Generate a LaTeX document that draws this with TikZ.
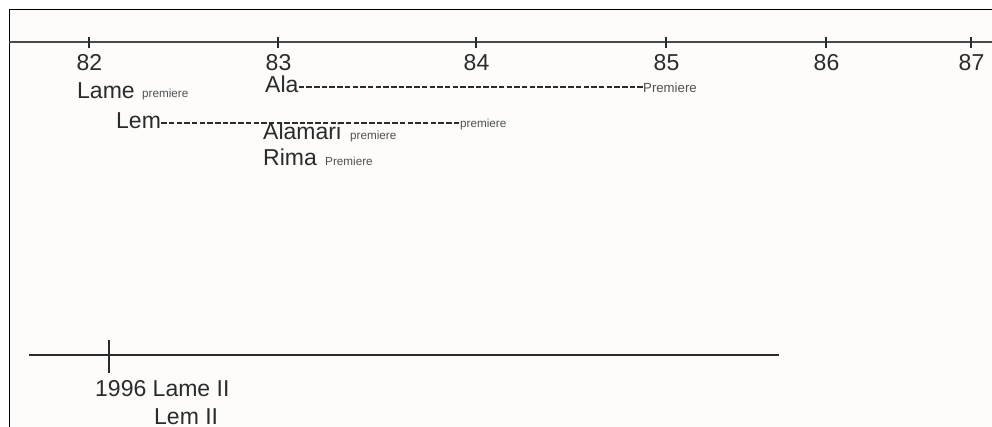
\documentclass[tikz,border=0pt]{standalone}
\usepackage{fontspec}
\setmainfont{Liberation Sans}
\definecolor{txt}{HTML}{2B2B2B}
\definecolor{smalltxt}{HTML}{505050}
\definecolor{axisgray}{HTML}{4A4A4A}
\definecolor{paper}{HTML}{FDFCFB}
\begin{document}
\begin{tikzpicture}[x=1pt,y=-1pt,
  big/.style={inner sep=0pt,anchor=base west,text=txt,font=\fontsize{23}{27}\selectfont},
  num/.style={inner sep=0pt,anchor=base,text=txt,font=\fontsize{23}{27}\selectfont},
  small/.style={inner sep=0pt,anchor=base west,text=smalltxt,font=\fontsize{11.7}{14}\selectfont},
  dl/.style={draw=txt,line width=1.5pt,dash pattern=on 5.5pt off 2.2pt},
  topaxis/.style={draw=axisgray,line width=2.6pt},
  tickmark/.style={draw=txt,line width=1.4pt},
  frame/.style={draw=black,line width=1pt}]
\useasboundingbox (0,0) rectangle (992,427);
\fill[white] (0,0) rectangle (992,427);
\fill[paper] (9,10) rectangle (992,427);
% frame
\coordinate (fl) at (9,427);
\coordinate (ftl) at (9,10);
\coordinate (ftr) at (992,10);
\draw[frame] (fl) -- (ftl) -- (ftr);
% top axis
\coordinate (ta0) at (9,42);
\coordinate (ta1) at (992,42);
\draw[topaxis] (ta0) -- (ta1);
\foreach \n/\x in {82/89,83/278,84/476,85/666,86/826,87/971}{
  \coordinate (t\n a) at (\x,37);
  \coordinate (t\n b) at (\x,48);
  \draw[tickmark] (t\n a) -- (t\n b);
  \node[num] (l\n) at (\x+0.5,71) {\n};
}
% labels
\node[big] (lame) at (77,99) {Lame};
\node[small] (lamep) at (142,98) {premiere};
\node[big] (ala) at (265,93) {Ala};
\node[small,font=\fontsize{13.2}{15}\selectfont] (alap) at (643,93) {Premiere};
\draw[dl] ([yshift=6]ala.base east) -- ([yshift=6]ala.base east -| alap.west);
\node[big] (lem) at (116,129) {Lem};
\node[small] (lemp) at (460,128) {premiere};
\draw[dl] ([yshift=6]lem.base east) -- ([yshift=6]lem.base east -| lemp.west);
\node[big] (alamari) at (263,140) {Alamari};
\node[small] (alamarip) at (350,140) {premiere};
\node[big] (rima) at (263,166) {Rima};
\node[small] (rimap) at (325,166) {Premiere};
% bottom axis
\coordinate (ba0) at (29,355);
\coordinate (ba1) at (779,355);
\draw[draw=txt,line width=1.5pt] (ba0) -- (ba1);
\coordinate (bt0) at (109,340);
\coordinate (bt1) at (109,373);
\draw[tickmark] (bt0) -- (bt1);
\node[big] (lame2) at (95,396) {1996 Lame II};
\node[big] (lem2) at (154,424) {Lem II};
\end{tikzpicture}
\end{document}
